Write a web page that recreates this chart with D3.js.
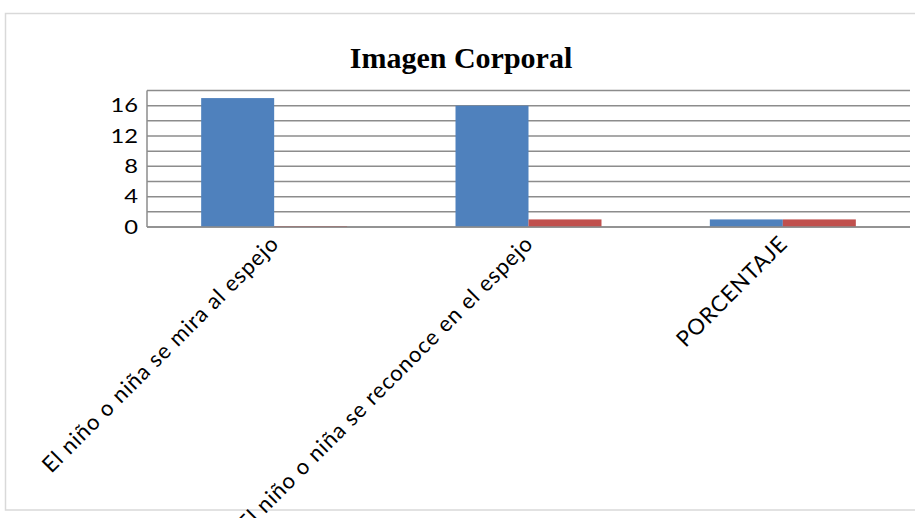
<!DOCTYPE html>
<html>
<head>
<meta charset="utf-8">
<script src="https://cdn.jsdelivr.net/npm/d3@7"></script>
<style>
  html, body { margin: 0; padding: 0; background: #fff; }
  svg { display: block; }
</style>
</head>
<body>
<svg id="chart" width="915" height="518"></svg>
<script>
// Categories and series values
const categories = [
  "El niño o niña se mira al espejo",
  "El niño o niña se reconoce en el espejo",
  "PORCENTAJE"
];
const seriesA = [17, 16, 1];
const seriesB = [0, 1, 1];
const yTicks = [0, 4, 8, 12, 16];
const gridValues = [0, 2, 4, 6, 8, 10, 12, 14, 16, 18];
const titleText = "Imagen Corporal";

const svg = d3.select("#chart");

// Chart area border
svg.append("rect")
  .attr("x", 5.5).attr("y", 13.5)
  .attr("width", 915).attr("height", 496.5)
  .attr("fill", "#fff")
  .attr("stroke", "#d9d9d9")
  .attr("stroke-width", 1.5);

const plot = { left: 147, right: 910, top: 90.5, bottom: 227 };

const x = d3.scaleBand()
  .domain(categories)
  .range([plot.left, plot.right])
  .paddingInner(0.426)
  .paddingOuter(0.213);

const sub = d3.scaleBand()
  .domain(["a", "b"])
  .range([0, x.bandwidth()]);

const y = d3.scaleLinear()
  .domain([0, 18])
  .range([plot.bottom, plot.top]);

// Horizontal gridlines
svg.append("g")
  .selectAll("line")
  .data(gridValues)
  .join("line")
  .attr("x1", plot.left).attr("x2", plot.right)
  .attr("y1", d => y(d)).attr("y2", d => y(d))
  .attr("stroke", "#8c8c8c")
  .attr("stroke-width", 1.5);

// Bars
const rows = categories.map((c, i) => ({ c, a: seriesA[i], b: seriesB[i] }));
const groups = svg.append("g")
  .selectAll("g")
  .data(rows)
  .join("g")
  .attr("transform", d => `translate(${x(d.c)},0)`);

groups.append("rect")
  .attr("x", sub("a"))
  .attr("width", sub.bandwidth())
  .attr("y", d => y(d.a))
  .attr("height", d => y(0) - y(d.a))
  .attr("fill", "#4f81bd");

// Zero-valued bars still show as a hairline on the baseline
groups.append("rect")
  .attr("x", sub("b"))
  .attr("width", sub.bandwidth())
  .attr("y", d => Math.min(y(d.b), y(0) - 1))
  .attr("height", d => Math.max(y(0) - y(d.b), 1))
  .attr("fill", "#c0504d");

// Axis lines
svg.append("line")
  .attr("x1", plot.left).attr("x2", plot.left)
  .attr("y1", plot.top).attr("y2", plot.bottom)
  .attr("stroke", "#8c8c8c").attr("stroke-width", 1.5);
svg.append("line")
  .attr("x1", plot.left).attr("x2", plot.right)
  .attr("y1", plot.bottom).attr("y2", plot.bottom)
  .attr("stroke", "#8c8c8c").attr("stroke-width", 1.5);

// Y axis labels (slightly widened glyphs)
const yAxis = d3.axisLeft(y).tickValues(yTicks).tickSize(0);
const gy = svg.append("g")
  .attr("transform", `translate(${plot.left},0)`)
  .call(yAxis);
gy.select(".domain").remove();
gy.selectAll("text")
  .attr("x", 0)
  .attr("transform", "translate(-9,0) scale(1.25,1)")
  .attr("font-family", "Lato, 'Open Sans', sans-serif")
  .attr("font-size", 19)
  .attr("fill", "#000");

// Category labels, rotated
const xAxis = d3.axisBottom(x).tickSize(0).tickPadding(0);
const gx = svg.append("g")
  .attr("transform", `translate(0,${plot.bottom})`)
  .call(xAxis);
gx.select(".domain").remove();
gx.selectAll("text")
  .attr("font-family", "Lato, 'Open Sans', sans-serif")
  .attr("font-size", 22)
  .attr("letter-spacing", 0.9)
  .attr("fill", "#000")
  .attr("text-anchor", "end")
  .attr("dy", null)
  .attr("y", 0)
  .attr("transform", "translate(6,18) rotate(-45)");

// Title
svg.append("text")
  .attr("x", 461).attr("y", 68)
  .attr("text-anchor", "middle")
  .attr("font-family", "'Liberation Serif', 'Times New Roman', serif")
  .attr("font-weight", "bold")
  .attr("font-size", 30)
  .attr("fill", "#000")
  .text(titleText);
</script>
</body>
</html>
